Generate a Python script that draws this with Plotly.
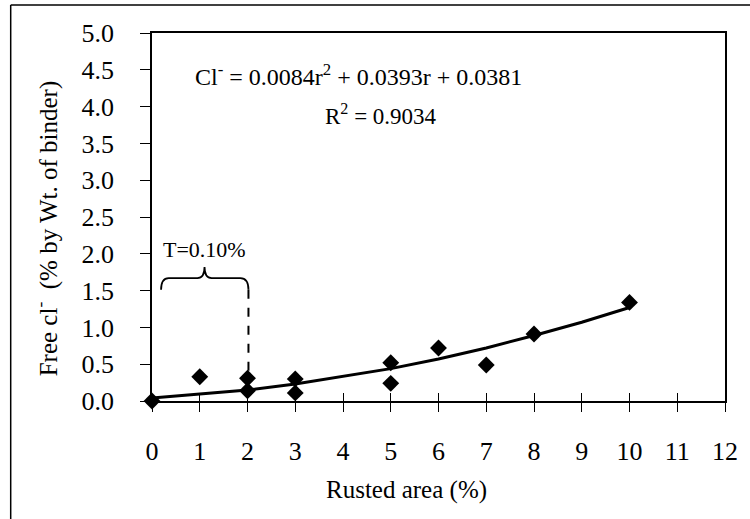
import plotly.graph_objects as go

# Data
rusted_area = [0, 1, 2, 2, 3, 3, 5, 5, 6, 7, 8, 10]
free_cl = [0.0, 0.33, 0.31, 0.14, 0.30, 0.11, 0.52, 0.24, 0.72, 0.49, 0.91, 1.34]

# Trendline as drawn
trend_x = [0, 1, 2, 3, 4, 5, 6, 7, 8, 9, 10]
trend_y = [0.04, 0.09, 0.15, 0.23, 0.33, 0.44, 0.57, 0.72, 0.89, 1.07, 1.27]

x_ticks = list(range(0, 13))
y_ticks = [0.0, 0.5, 1.0, 1.5, 2.0, 2.5, 3.0, 3.5, 4.0, 4.5, 5.0]

FONT = "Liberation Serif"

fig = go.Figure()
fig.add_trace(go.Scatter(x=trend_x, y=trend_y, mode="lines",
                         line=dict(color="black", width=3), showlegend=False))
fig.add_trace(go.Scatter(x=rusted_area, y=free_cl, mode="markers",
                         marker=dict(symbol="diamond", size=13, color="black"),
                         showlegend=False, cliponaxis=False))

# invisible trace on overlay axis for inner ticks
fig.add_trace(go.Scatter(x=[0], y=[0], xaxis="x2", mode="markers",
                         marker=dict(opacity=0), showlegend=False, hoverinfo="skip"))

fig.update_layout(
    width=750, height=519,
    margin=dict(l=152, r=18, t=33, b=118),
    paper_bgcolor="white", plot_bgcolor="white",
    font=dict(family=FONT, color="black"),
    xaxis=dict(range=[0, 12], tickvals=x_ticks, ticks="outside", ticklen=9,
               tickwidth=1.2, tickcolor="black", showline=True, linecolor="black",
               linewidth=1.5, mirror=True, showgrid=False, zeroline=False,
               tickfont=dict(size=26, family=FONT), ticklabelstandoff=17),
    xaxis2=dict(range=[0, 12], tickvals=x_ticks, ticks="inside", ticklen=8,
                tickwidth=1.2, tickcolor="black", overlaying="x", showticklabels=False,
                showgrid=False, zeroline=False, showline=False, anchor="y"),
    yaxis=dict(range=[0, 5], tickvals=y_ticks, tickformat=".1f", ticks="outside",
               ticklen=10, tickwidth=1.2, tickcolor="black", showline=True,
               linecolor="black", linewidth=1.5, mirror=True, showgrid=False,
               zeroline=False, tickfont=dict(size=26, family=FONT), ticklabelstandoff=21),
)

# axis titles
fig.add_annotation(x=0.4448, y=-0.2418, xref="paper", yref="paper", showarrow=False,
                   text="Rusted area (%)", font=dict(size=25, family=FONT),
                   xanchor="center", yanchor="middle")
fig.add_annotation(x=-0.1845, y=0.47, xref="paper", yref="paper", showarrow=False,
                   text="Free cl<sup>-</sup>  (% by Wt. of binder)", textangle=-90,
                   font=dict(size=25, family=FONT), xanchor="center", yanchor="middle")

# equation annotations
fig.add_annotation(x=4.33, y=4.43, xref="x", yref="y", showarrow=False,
                   text="Cl<sup>-</sup> = 0.0084r<sup>2</sup> + 0.0393r + 0.0381",
                   font=dict(size=24, family=FONT))
fig.add_annotation(x=4.8, y=3.89, xref="x", yref="y", showarrow=False,
                   text="R<sup>2</sup> = 0.9034", font=dict(size=23, family=FONT))
fig.add_annotation(x=1.1, y=2.06, xref="x", yref="y", showarrow=False,
                   text="T=0.10%", font=dict(size=22, family=FONT))

# curly bracket
fig.add_shape(type="path", xref="x", yref="y",
              path="M 0.19,1.51 Q 0.19,1.67 0.35,1.67 L 0.95,1.67 Q 1.1,1.67 1.1,1.82 "
                   "Q 1.1,1.67 1.25,1.67 L 1.85,1.67 Q 2.02,1.67 2.02,1.51",
              line=dict(color="black", width=1.8))
fig.add_shape(type="line", xref="x", yref="y", x0=2.02, x1=2.02, y0=1.51, y1=0.35,
              line=dict(color="black", width=2, dash="dash"))

# outer frame lines
fig.add_shape(type="line", xref="paper", yref="paper", x0=-0.2466, x1=1.05, y0=1.076, y1=1.076,
              line=dict(color="black", width=1.5))
fig.add_shape(type="line", xref="paper", yref="paper", x0=-0.2466, x1=-0.2466, y0=1.076, y1=-0.35,
              line=dict(color="black", width=1.5))

fig.write_html("out.html")
